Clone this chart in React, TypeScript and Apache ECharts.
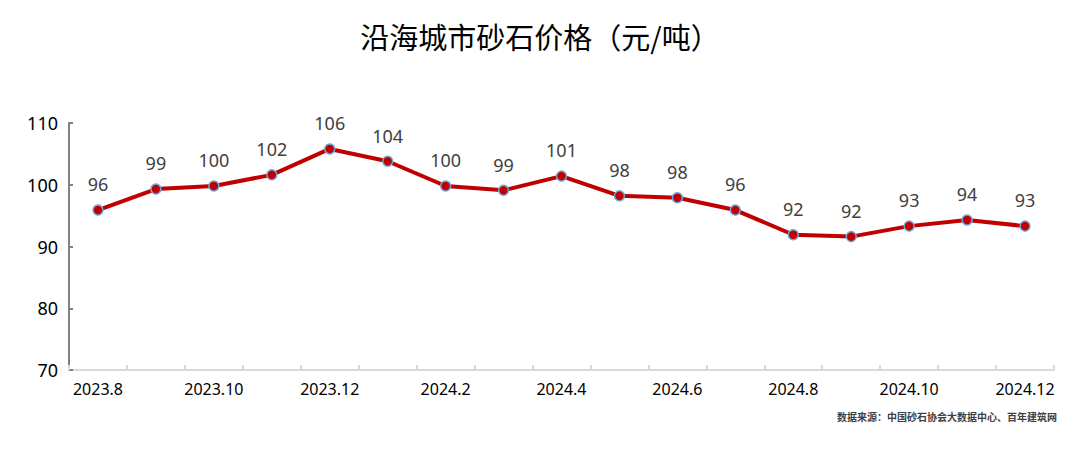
import React, { useEffect, useRef } from "react";
import * as echarts from "echarts";

const categories = [
  "2023.8", "2023.9", "2023.10", "2023.11", "2023.12", "2024.1", "2024.2", "2024.3",
  "2024.4", "2024.5", "2024.6", "2024.7", "2024.8", "2024.9", "2024.10", "2024.11", "2024.12",
];
const prices = [95.9, 99.3, 99.8, 101.6, 105.8, 103.8, 99.8, 99.1, 101.4, 98.2, 97.9, 95.9, 91.9, 91.6, 93.3, 94.3, 93.3];
const titleText = "沿海城市砂石价格（元/吨）";
const sourceText = "数据来源：中国砂石协会大数据中心、百年建筑网";

export default function App() {
  const ref = useRef<HTMLDivElement>(null);
  useEffect(() => {
    if (!ref.current) return;
    const chart = echarts.init(ref.current, null, { renderer: "svg" });
    chart.setOption({
      animation: false,
      backgroundColor: "#ffffff",
      title: {
        text: titleText,
        left: "center",
        top: 16,
        textStyle: {
          fontFamily: "Noto Sans CJK SC",
          fontSize: 29,
          fontWeight: "normal",
          color: "#000000",
        },
      },
      graphic: [
        {
          type: "text",
          right: 23,
          top: 411,
          style: {
            text: sourceText,
            fontFamily: "Noto Sans CJK SC",
            fontSize: 10,
            fontWeight: "bold",
            fill: "#404040",
          },
        },
      ],
      grid: { left: 69, right: 26, top: 123, bottom: 80, containLabel: false },
      xAxis: {
        type: "category",
        data: categories,
        boundaryGap: true,
        axisLine: { lineStyle: { color: "#d9d9d9", width: 2 } },
        axisTick: { show: true, inside: true, interval: 0, length: 5, lineStyle: { color: "#d9d9d9", width: 2 } },
        axisLabel: {
          interval: 1,
          color: "#000000",
          fontSize: 16,
          fontFamily: "Noto Sans",
          margin: 11,
        },
      },
      yAxis: {
        type: "value",
        min: 70,
        max: 110,
        interval: 10,
        splitLine: { show: false },
        axisLine: { show: true, lineStyle: { color: "#808080", width: 2 } },
        axisTick: { show: true, inside: true, length: 4, lineStyle: { color: "#808080", width: 2 } },
        axisLabel: {
          color: "#000000",
          fontSize: 18,
          fontFamily: "Noto Sans",
          margin: 11,
        },
      },
      series: [
        {
          type: "line",
          data: prices,
          symbol: "circle",
          symbolSize: 10,
          lineStyle: { color: "#c00000", width: 4 },
          itemStyle: { color: "#c00000", borderColor: "#6fa8dc", borderWidth: 1.5 },
          label: {
            show: true,
            position: "top",
            distance: 11,
            color: "#404040",
            fontSize: 18,
            fontFamily: "Noto Sans",
            formatter: (p: any) => String(Math.round(p.value)),
          },
        },
      ],
    });
    return () => chart.dispose();
  }, []);
  return (
    <div
      ref={ref}
      style={{ position: "fixed", left: 0, top: 0, width: 1080, height: 450 }}
    />
  );
}
